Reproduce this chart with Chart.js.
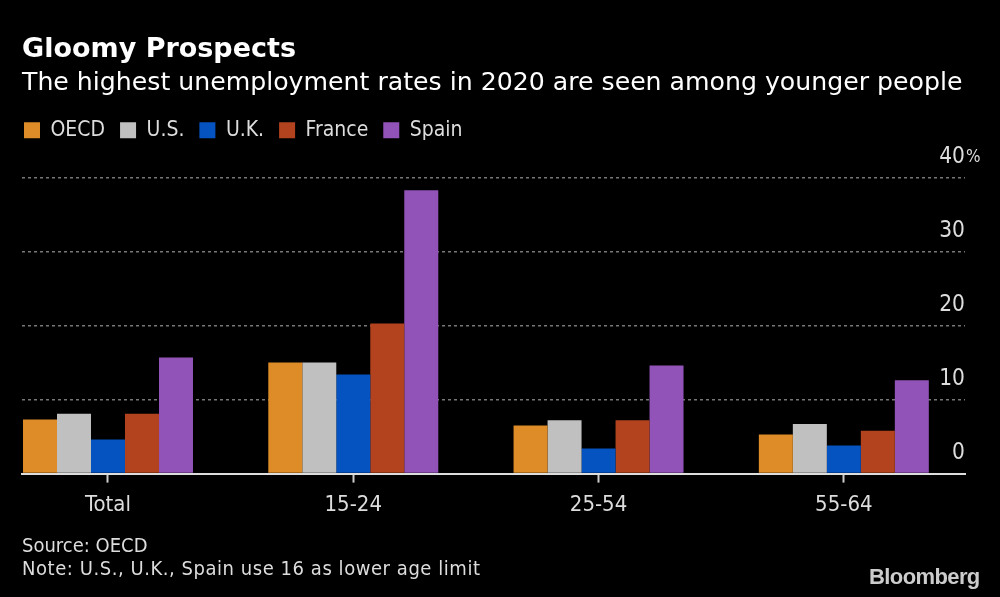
<!DOCTYPE html>
<html>
<head>
<meta charset="utf-8">
<style>
  html, body { margin: 0; padding: 0; background: #000; }
  #wrap { position: relative; width: 1000px; height: 597px; overflow: hidden; }
  .note { position: absolute; left: 22px; color: #ddd; font: 20px "DejaVu Sans Condensed"; white-space: nowrap; }
  #logo { position: absolute; left: 869px; top: 564px; color: #ccc; font: bold 22px "Liberation Sans"; letter-spacing: -0.6px; }
</style>
<script src="https://cdn.jsdelivr.net/npm/chart.js@4"></script>
</head>
<body>
<div id="wrap">
  <canvas id="chart" width="1000" height="597"></canvas>
  <div class="note" style="top:533px">Source: OECD</div>
  <div class="note" style="top:556px;letter-spacing:0.55px">Note: U.S., U.K., Spain use 16 as lower age limit</div>
  <div id="logo">Bloomberg</div>
</div>
<script>
const categories = ['Total', '15-24', '25-54', '55-64'];
const oecd = [7.3, 15, 6.5, 5.3];
const us = [8.1, 15, 7.2, 6.7];
const uk = [4.6, 13.4, 3.4, 3.8];
const france = [8.1, 20.3, 7.2, 5.8];
const spain = [15.7, 38.3, 14.6, 12.6];
const yTicks = [0, 10, 20, 30, 40];

const face = 'DejaVu Sans Condensed';

function series(label, values, color) {
    return {
        label: label,
        data: values.map(function (v, i) { return { x: i, y: v }; }),
        backgroundColor: color,
        borderWidth: 0,
        categoryPercentage: 0.693,
        barPercentage: 1
    };
}

const tweaks = {
    id: 'tweaks',
    // more room under the legend
    beforeInit: function (chart) {
        const fit = chart.legend.fit;
        chart.legend.fit = function () {
            fit.bind(this)();
            this.height += 27;
        };
    },
    // legend starts at its padding, pull it back to the left edge
    beforeDraw: function (chart) {
        chart.legend.left = 9;
    },
    // the "%" sits after the digits of the top tick only
    afterDraw: function (chart) {
        const ctx = chart.ctx;
        ctx.save();
        ctx.fillStyle = '#ddd';
        ctx.font = '17px "' + face + '"';
        ctx.textAlign = 'left';
        ctx.textBaseline = 'middle';
        ctx.fillText('%', chart.chartArea.right + 1, chart.scales.y.getPixelForValue(40) - 20);
        ctx.restore();
    }
};

new Chart(document.getElementById('chart'), {
    type: 'bar',
    plugins: [tweaks],
    data: {
        datasets: [
            series('OECD', oecd, '#dd8c27'),
            series('U.S.', us, '#c0c0c0'),
            series('U.K.', uk, '#0553c0'),
            series('France', france, '#b2431e'),
            series('Spain', spain, '#9153b8')
        ]
    },
    options: {
        responsive: false,
        animation: false,
        devicePixelRatio: 1,
        layout: { padding: { left: 22, right: 35, top: 34, bottom: 70 } },
        scales: {
            x: {
                type: 'linear',
                offset: false,
                min: -0.3506,
                max: 3.494,
                afterBuildTicks: function (axis) {
                    axis.ticks = categories.map(function (c, i) { return { value: i }; });
                },
                ticks: {
                    color: '#ddd',
                    font: { family: face, size: 22 },
                    padding: 9,
                    maxRotation: 0,
                    callback: function (value) { return categories[value]; }
                },
                grid: { offset: false, drawOnChartArea: false, drawTicks: true, tickLength: 9, tickColor: '#ccc', tickWidth: 2 },
                border: { color: '#ddd', width: 2 }
            },
            y: {
                position: 'right',
                min: 0,
                max: 40,
                afterBuildTicks: function (axis) {
                    axis.ticks = yTicks.map(function (v) { return { value: v }; });
                },
                ticks: {
                    mirror: true,
                    padding: 0,
                    labelOffset: -20,
                    color: '#ddd',
                    font: { family: face, size: 22.5 }
                },
                grid: { color: '#777', lineWidth: 1.5, drawTicks: false },
                border: { display: false, dash: [3, 3] }
            }
        },
        plugins: {
            title: {
                display: true,
                text: 'Gloomy Prospects',
                align: 'start',
                color: '#fff',
                font: { family: 'DejaVu Sans', size: 27, weight: 'bold' },
                padding: { top: 0, bottom: 0 }
            },
            subtitle: {
                display: true,
                text: 'The highest unemployment rates in 2020 are seen among younger people',
                align: 'start',
                color: '#fff',
                font: { family: 'DejaVu Sans', size: 25.2, weight: 'normal' },
                padding: { top: 2, bottom: 6 }
            },
            legend: {
                position: 'top',
                align: 'start',
                labels: {
                    color: '#ddd',
                    boxWidth: 16,
                    boxHeight: 16,
                    padding: 15,
                    font: { family: face, size: 21 }
                }
            },
            tooltip: { enabled: false }
        }
    }
});
</script>
</body>
</html>
